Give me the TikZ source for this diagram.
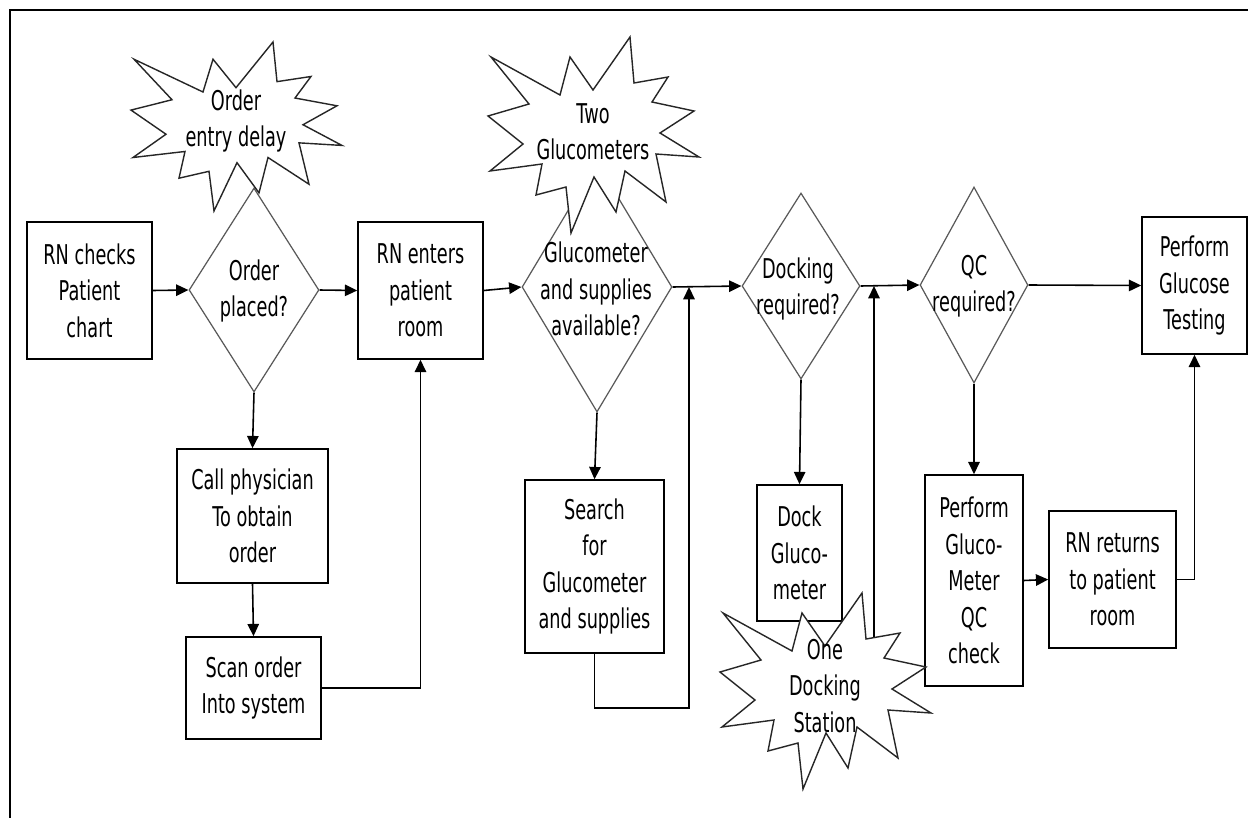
\documentclass[tikz,border=0pt]{standalone}
\usepackage{fontspec}
\setmainfont{DejaVu Sans}[FakeStretch=0.65]
\usetikzlibrary{shapes.geometric,arrows.meta}
\begin{document}
\begin{tikzpicture}[x=0.02cm,y=-0.02cm,
  ftxt/.style={font=\fontsize{15.5}{20.7}\selectfont, align=center, inner sep=0pt},
  procbox/.style={font=\fontsize{15.5}{20.7}\selectfont, align=center, draw=black, line width=0.9pt, inner sep=1pt},
  decide/.style={diamond, draw=black!65, line width=0.7pt, inner sep=0pt},
  arr/.style={draw=black, line width=0.9pt, -{Triangle[length=7pt,width=6.5pt]}},
  burst/.pic={\draw[black!85, line width=0.8pt, fill=white, line join=miter]
    (3,20) -- (72,58) -- (82,20) -- (105,53) -- (142,0) -- (146,46) -- (180,40) -- (164,65)
    -- (206,74) -- (172,96) -- (211,120) -- (168,117) -- (178,165) -- (137,134) -- (128,175)
    -- (106,140) -- (83,196) -- (78,150) -- (48,158) -- (54,127) -- (2,134) -- (35,107)
    -- (0,79) -- (41,67) -- cycle;}
]
\useasboundingbox (0,0) rectangle (1248,818);
\draw[line width=1.2pt] (10,818) -- (10,10) -- (1248,10);

% process boxes and decisions
\node[procbox, minimum width=2.5cm, minimum height=2.74cm] (b1) at (89.5,290.5) {RN checks\\Patient\\chart};
\node[decide, minimum width=2.6cm, minimum height=4.08cm] (d1) at (254,290) {};
\node[procbox, minimum width=3.02cm, minimum height=2.68cm] (b2) at (252.5,516) {Call physician\\To obtain\\order};
\node[procbox, minimum width=2.7cm, minimum height=2.04cm] (b3) at (253.5,688) {Scan order\\Into system};
\node[procbox, minimum width=2.5cm, minimum height=2.74cm] (b4) at (420.5,290.5) {RN enters\\patient\\room};
\node[decide, minimum width=3cm, minimum height=5cm] (d2) at (597,287) {};
\node[procbox, minimum width=2.78cm, minimum height=3.46cm] (b5) at (594.5,566.5) {Search\\for\\Glucometer\\and supplies};
\node[decide, minimum width=2.36cm, minimum height=3.72cm] (d3) at (801,286) {};
\node[procbox, minimum width=1.7cm, minimum height=2.72cm] (b6) at (799.5,553) {Dock\\Gluco-\\meter};
\node[decide, minimum width=2.16cm, minimum height=3.92cm] (d4) at (974,285) {};
\node[procbox, minimum width=2.1cm, minimum height=2.74cm] (b7) at (1194.5,285.5) {Perform\\Glucose\\Testing};
\node[procbox, minimum width=1.96cm, minimum height=4.22cm] (b8) at (974,580.5) {Perform\\Gluco-\\Meter\\QC\\check};
\node[procbox, minimum width=2.54cm, minimum height=2.74cm] (b9) at (1112.5,579.5) {RN returns\\to patient\\room};

\coordinate (j1) at (689,287);
\coordinate (j2) at (874,286);
\coordinate (dk) at (874,665);

% connectors
\draw[arr] (b1.east) -- (d1.west);
\draw[arr] (d1.east) -- (b4.west);
\draw[arr] (d1.south) -- (b2.north);
\draw[arr] (b2.south) -- (b3.north);
\draw[arr] (b3.east) -| (b4.south);
\draw[arr] (b4.east) -- (d2.west);
\draw[arr] (d2.east) -- (d3.west);
\draw[arr] (d2.south) -- (b5.north);
\draw[arr] (b5.south) -- ++(0,54) -| (j1);
\draw[arr] (d3.east) -- (d4.west);
\draw[arr] (d3.south) -- (b6.north);
\draw[arr] (dk) -- (j2);
\draw[arr] (d4.east) -- (b7.west);
\draw[arr] (d4.south) -- (b8.north);
\draw[arr] (b8.east) -- (b9.west);
\draw[arr] (b9.east) -| (b7.south);

% starbursts
\pic[yscale=0.862] at (131,42) {burst};
\pic at (488,37) {burst};
\pic at (720,593) {burst};

\node[ftxt] (s1) at (236,121) {Order\\entry delay};
\node[ftxt] (s2) at (593,132) {Two\\Glucometers};
\node[ftxt] (s3) at (825,686) {One\\Docking\\Station};

% decision texts
\node[ftxt] (t1) at (254,291) {Order\\placed?};
\node[ftxt] (t2) at (596,289) {Glucometer\\and supplies\\available?};
\node[ftxt] (t3) at (798,289) {Docking\\required?};
\node[ftxt] (t4) at (974,286) {QC\\required?};
\end{tikzpicture}
\end{document}
